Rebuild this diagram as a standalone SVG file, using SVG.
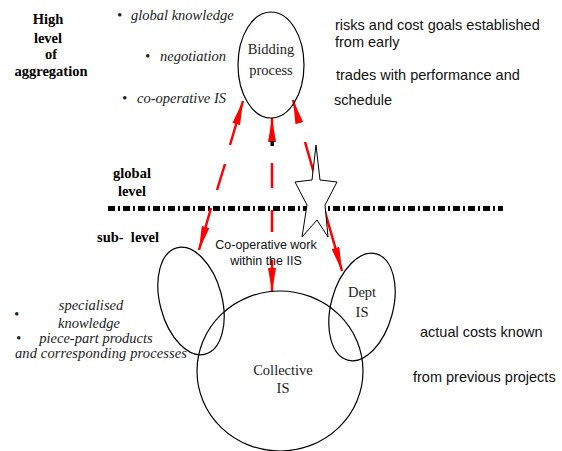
<svg xmlns="http://www.w3.org/2000/svg" width="562" height="451" viewBox="0 0 562 451">
<style>
.node{fill:none;stroke:#000;stroke-width:1.2}
.bold{font-family:"Liberation Serif",serif;font-weight:bold;font-size:14.5px;fill:#000}
.it{font-family:"Liberation Serif",serif;font-style:italic;font-size:14.5px;fill:#222}
.ser{font-family:"Liberation Serif",serif;font-size:14.5px;fill:#222}
.sans{font-family:"Liberation Sans",Arial,sans-serif;font-size:14.5px;fill:#111}
.sm{font-family:"Liberation Sans",Arial,sans-serif;font-size:12.5px;fill:#111}
.arr{fill:none;stroke:#ff0000;stroke-width:2.5;marker-start:url(#ah);marker-end:url(#ah)}
</style>
<defs>
<marker id="ah" viewBox="0 0 24 8" refX="24" refY="4" markerWidth="24" markerHeight="8" markerUnits="userSpaceOnUse" orient="auto-start-reverse">
<path d="M0,0 L24,4 L0,8 z" fill="#ff0000"/>
</marker>
</defs>
<rect width="562" height="451" fill="#fff"/>

<g id="labels-left">
<text class="bold" x="48" y="24" text-anchor="middle">High</text>
<text class="bold" x="48" y="43" text-anchor="middle">level</text>
<text class="bold" x="51" y="59" text-anchor="middle">of</text>
<text class="bold" x="51" y="76" text-anchor="middle">aggregation</text>
<text class="it" x="117" y="20">•</text>
<text class="it" x="131" y="20">global knowledge</text>
<text class="it" x="145" y="61">•</text>
<text class="it" x="160" y="61">negotiation</text>
<text class="it" x="122" y="103">•</text>
<text class="it" x="137" y="103">co-operative IS</text>
<text class="bold" x="132" y="178" text-anchor="middle">global</text>
<text class="bold" x="132" y="196" text-anchor="middle">level</text>
<text class="bold" x="97" y="242" style="white-space:pre">sub-  level</text>
<text class="it" x="91" y="310" text-anchor="middle">specialised</text>
<text class="it" x="14" y="319">•</text>
<text class="it" x="89" y="328" text-anchor="middle">knowledge</text>
<text class="it" x="16" y="343">•</text>
<text class="it" x="96" y="343" text-anchor="middle">piece-part products</text>
<text class="it" x="15" y="358" textLength="172">and corresponding processes</text>
</g>

<g id="labels-right">
<text class="sans" x="335" y="30">risks and cost goals established</text>
<text class="sans" x="335" y="47">from early</text>
<text class="sans" x="336" y="80">trades with performance and</text>
<text class="sans" x="334" y="105">schedule</text>
<text class="sans" x="420" y="337">actual costs known</text>
<text class="sans" x="413" y="382">from previous projects</text>
</g>

<g id="level-divider">
<line x1="108" y1="208.5" x2="503" y2="208.5" stroke="#000" stroke-width="5" stroke-dasharray="7 3 2 3"/>
</g>

<g id="connectors">
<path class="arr" d="M243,101 L230,145 M225,164 L217,190 M211,208 L199,250"/>
<path class="arr" d="M272,118 L272,143 M272,163 L272,188 M272,210 L272,232 M272,260 L272,292"/>
<path class="arr" d="M293,100 L299,122 M305,142 L342,271"/>
<rect x="270.5" y="141" width="3.5" height="5" fill="#000"/>
</g>

<g id="star">
<polygon points="316,145 312,180 295,182 307,205 302,237 317,220 328,237 325,205 337,182 320,180" fill="#fff" stroke="#000" stroke-width="1"/>
</g>

<g id="bidding-process">
<ellipse class="node" cx="271" cy="65" rx="33" ry="53"/>
<text class="ser" x="271" y="54" text-anchor="middle">Bidding</text>
<text class="ser" x="271" y="75" text-anchor="middle">process</text>
</g>

<g id="sub-is">
<ellipse class="node" cx="191" cy="301" rx="31" ry="55" transform="rotate(-15 191 301)"/>
</g>

<g id="dept-is">
<ellipse class="node" cx="362" cy="307" rx="31" ry="55" transform="rotate(15 362 307)"/>
<text class="ser" x="362" y="297" text-anchor="middle">Dept</text>
<text class="ser" x="362" y="317" text-anchor="middle">IS</text>
</g>

<g id="collective-is">
<ellipse class="node" cx="280" cy="371" rx="83" ry="80"/>
<text class="ser" x="283" y="375" text-anchor="middle">Collective</text>
<text class="ser" x="283" y="393" text-anchor="middle">IS</text>
</g>

<g id="coop-label">
<text class="sm" x="266" y="249" text-anchor="middle">Co-operative work</text>
<text class="sm" x="266" y="265" text-anchor="middle">within the IIS</text>
</g>
</svg>
